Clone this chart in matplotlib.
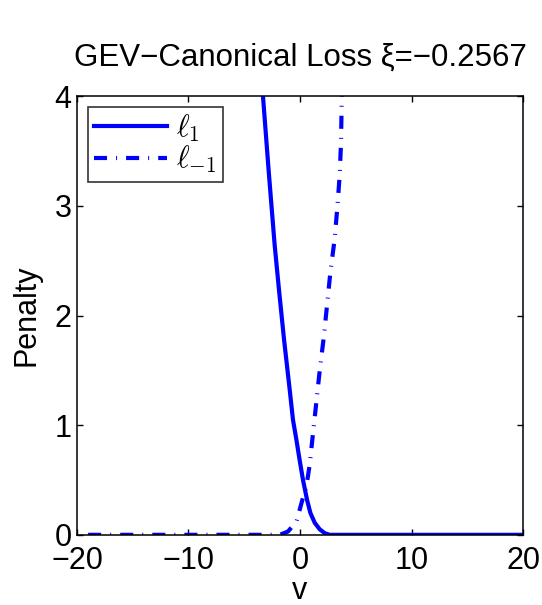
import matplotlib
matplotlib.use("Agg")
import matplotlib.pyplot as plt

plt.rcParams['font.family'] = ['Liberation Sans', 'DejaVu Sans']
plt.rcParams['mathtext.fontset'] = 'cm'
plt.rcParams['lines.scale_dashes'] = False

# values
v_pos = [-3.4, -3.32, -2.81, -2.27, -1.88, -1.43, -0.92, -0.63, -0.32, -0.03,
         0.27, 0.63, 0.93, 1.32, 1.77, 2.22, 2.66, 20.0]
loss_pos = [4.1, 4.0, 3.32, 2.64, 2.23, 1.78, 1.32, 1.05, 0.865, 0.68,
            0.50, 0.32, 0.20, 0.11, 0.05, 0.015, 0.0, 0.0]

v_neg = [-19.0, -1.82, -1.08, -0.32, 0.27, 0.57, 0.87, 1.17, 1.32, 1.77,
         2.13, 2.42, 2.73, 3.11, 3.35, 3.56, 3.68, 3.73, 3.76]
loss_neg = [0.0, 0.0, 0.03, 0.12, 0.34, 0.44, 0.64, 0.93, 1.07, 1.50,
            1.80, 2.09, 2.40, 2.70, 2.99, 3.28, 3.58, 3.90, 4.1]

xticks = [-20, -10, 0, 10, 20]
yticks = [0, 1, 2, 3, 4]

fig = plt.figure(figsize=(5.42, 6.05), dpi=100)
ax = fig.add_axes([0.142, 0.116, 0.823, 0.725])

ax.plot(v_pos, loss_pos, color='blue', linewidth=3, linestyle='solid', label=r'$\ell_1$')
ax.plot(v_neg, loss_neg, color='blue', linewidth=3,
        linestyle=(0, (9.4, 6.5, 0.7, 6.5)), label=r'$\ell_{-1}$')

ax.set_xlim(-20, 20)
ax.set_ylim(0, 4)
ax.set_xticks(xticks)
ax.set_yticks(yticks)
ax.tick_params(direction='in', length=4, width=1, top=True, right=True, labelsize=22)
ax.tick_params(axis='x', pad=8)
ax.tick_params(axis='y', pad=4)
for s in ax.spines.values():
    s.set_linewidth(1.1)

ax.set_title('GEV\u2212Canonical Loss \u03be=\u22120.2567', fontsize=22.5, pad=22)
ax.set_xlabel('v', fontsize=22, labelpad=0)
ax.set_ylabel('Penalty', fontsize=22, labelpad=9)

leg = ax.legend(loc='upper left', fontsize=22, handlelength=2.4, fancybox=False,
                borderaxespad=0.35, borderpad=0.2, labelspacing=0.0, handletextpad=0.3)
leg.get_frame().set_edgecolor('black')
leg.get_frame().set_linewidth(1.2)

fig.savefig('out.png', dpi=100)
